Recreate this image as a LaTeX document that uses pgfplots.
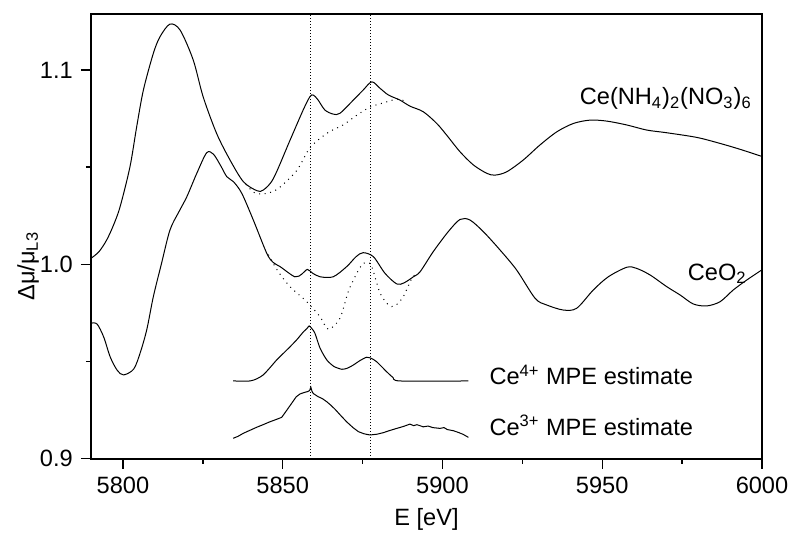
\documentclass[border=0pt]{standalone}
\usepackage{fontspec}
\setmainfont{Liberation Sans}
\usepackage{pgfplots}
\pgfplotsset{compat=1.18}
\begin{document}
\fontsize{11.8bp}{14bp}\selectfont
\begin{tikzpicture}
\begin{axis}[
  at={(0,0)}, anchor=south west,
  scale only axis, width=335.5bp, height=222.35bp,
  xmin=5790, xmax=6000, ymin=0.9, ymax=1.1288,
  xtick={5800,5850,5900,5950,6000},
  ytick={0.9,1.0,1.1},
  minor xtick={5825,5875,5925,5975},
  minor ytick={0.95,1.05},
  tick align=outside, xtick pos=left, ytick pos=left,
  major tick length=5bp, minor tick length=2.5bp,
  tick style={line width=0.7bp, black},
  axis line style={line width=0.8bp},
  cycle list={{black,solid}},
  no markers,
  /pgf/number format/assume math mode=true,
  ticklabel style={font=\fontsize{11.8bp}{14bp}\selectfont},
  xticklabel style={/pgf/number format/1000 sep={}},
  yticklabel style={/pgf/number format/.cd, fixed, fixed zerofill, precision=1},
  xlabel={E [eV]},
  xlabel style={at={(axis description cs:0.5,0)}, anchor=center, yshift=-30.5bp, font=\fontsize{11.8bp}{14bp}\selectfont},
  ylabel={Δμ/μ\textsubscript{L3}},
  ylabel style={at={(axis description cs:-0.0939,0.433)}, anchor=center, font=\fontsize{11.8bp}{14bp}\selectfont},
  every axis plot/.append style={line width=0.5bp, black},
  clip=true,
]
% vertical guide lines
\addplot[densely dotted, line width=0.6bp] coordinates {(5858.6,0.9) (5858.6,1.1288)};
\addplot[densely dotted, line width=0.6bp] coordinates {(5877.4,0.9) (5877.4,1.1288)};

% Ce(NH4)2(NO3)6 solid
\addplot[solid, smooth, tension=0.5] coordinates {
(5790,1.0031) (5792.5,1.0065) (5794.9,1.0125) (5797,1.0200) (5799.1,1.0296) (5802.2,1.0502)
(5804.3,1.0708) (5806.4,1.0897) (5809.5,1.1085) (5811.6,1.1171) (5814.7,1.1236)
(5817.9,1.1205) (5822.0,1.1051) (5825.1,1.0862) (5829.3,1.0674) (5833.5,1.0537)
(5837.7,1.0425) (5841.9,1.0379) (5843.9,1.0382) (5847.1,1.0442) (5852.3,1.0639)
(5856.4,1.0794) (5858.5,1.0862) (5859.6,1.0871) (5861.1,1.0845) (5863.2,1.0794)
(5865.8,1.0773) (5867.9,1.0777) (5872.1,1.0845) (5875.2,1.0897) (5877.9,1.0939)
(5880.5,1.0905) (5883.1,1.0871) (5886.7,1.0845) (5889.8,1.0814) (5894.0,1.0785)
(5898.2,1.0725) (5901.3,1.0665) (5905.5,1.0579) (5909.7,1.0511) (5913.9,1.0468)
(5916.4,1.0459) (5920.1,1.0476) (5925.3,1.0537) (5930.5,1.0614) (5935.8,1.0682)
(5941.0,1.0725) (5946.2,1.0742) (5951.4,1.0737) (5957.7,1.0717) (5963.9,1.0691)
(5970.2,1.0677) (5979.6,1.0653) (5986.9,1.0622) (5993.1,1.0592) (6000,1.0555)
};
% Ce(NH4)2(NO3)6 background (dotted)
\addplot[smooth, tension=0.5, dash pattern=on 0.5bp off 2.3bp] coordinates {
(5838.5,1.0412) (5841,1.0370) (5843.8,1.0362) (5846.5,1.0372) (5849.2,1.0398)
(5854.5,1.0485) (5858.5,1.0599) (5863.9,1.0675) (5868.9,1.0717) (5873,1.0765)
(5877.3,1.0809) (5881.4,1.0830) (5885.8,1.0850) (5888.5,1.0838)
};

% CeO2 solid
\addplot[solid, smooth, tension=0.5] coordinates {
(5790,0.9697) (5791.9,0.9693) (5794,0.9625) (5796.0,0.9524) (5798.2,0.9455)
(5800.2,0.9431) (5803.4,0.9462) (5805.5,0.9550) (5807.5,0.9667) (5809.5,0.9833)
(5812,1.0000) (5814.7,1.0176) (5817.5,1.0270) (5820.0,1.0348) (5823.1,1.0468)
(5826.2,1.0574) (5828.3,1.0567) (5830.5,1.0510) (5832.5,1.0451) (5834.6,1.0425)
(5837.2,1.0365) (5840.8,1.0228) (5845.0,1.0057) (5847,1.0010) (5849.2,0.9988)
(5853.8,0.9936) (5856,0.9950) (5857.7,0.9974) (5859.3,0.9955) (5861.7,0.9936)
(5865.8,0.9936) (5870.0,0.9988) (5873,1.0040) (5875.2,1.0060) (5878.4,1.0039)
(5882.0,0.9954) (5885.7,0.9899) (5888,0.9905) (5890.9,0.9936) (5893.0,0.9962)
(5897.1,1.0065) (5901.8,1.0168) (5905.5,1.0231) (5908.6,1.0228) (5912.8,1.0168)
(5918.0,1.0074) (5923.2,0.9971) (5929.0,0.9825) (5932.6,0.9791) (5937.8,0.9765)
(5942.0,0.9774) (5947.2,0.9868) (5951.9,0.9936) (5957.7,0.9985) (5960.8,0.9979)
(5965.0,0.9945) (5970.2,0.9885) (5974.4,0.9842) (5978.5,0.9796) (5982.7,0.9786)
(5986.9,0.9808) (5991.0,0.9868) (5995.2,0.9919) (6000,0.9972)
};
% CeO2 background (dotted)
\addplot[smooth, tension=0.5, dash pattern=on 0.5bp off 2.3bp] coordinates {
(5845.5,1.0050) (5848.5,0.9965) (5852.3,0.9885) (5857.5,0.9808) (5861.7,0.9730)
(5864.3,0.9666) (5867.9,0.9722) (5870.5,0.9859) (5873.2,0.9954) (5875.2,1.0005)
(5877.3,1.0005) (5878.4,0.9962) (5880.5,0.9851) (5883.1,0.9791) (5885.1,0.9786)
(5887.7,0.9833) (5890.4,0.9928) (5891.5,0.9945)
};

% Ce4+ MPE estimate
\addplot[solid, smooth, tension=0.4] coordinates {
(5834.5,0.9400) (5839.8,0.9400) (5842,0.9412) (5843.9,0.9431) (5846,0.9468)
(5848.1,0.9508) (5850.2,0.9542) (5852.3,0.9576) (5854.4,0.9612) (5856.5,0.9653)
(5857.6,0.9670) (5858.3,0.9683) (5859.2,0.9668) (5860.1,0.9645) (5861.7,0.9568)
(5863.8,0.9508) (5866,0.9475) (5868.5,0.9460) (5870.3,0.9466) (5872.1,0.9482)
(5874.2,0.9505) (5876.3,0.9522) (5877.9,0.9515) (5879.4,0.9499) (5881,0.9473)
(5882.5,0.9448) (5884.5,0.9418) (5886.7,0.9400) (5908.1,0.9400)
};
% Ce3+ MPE estimate
\addplot[solid] coordinates {
(5834.5,0.9105) (5836,0.9115) (5837.7,0.9131) (5840,0.9148) (5841.9,0.9162)
(5844,0.9176) (5846,0.9190) (5848,0.9202) (5849.7,0.9213) (5851.3,0.9250)
(5852.8,0.9285) (5854.2,0.9318) (5855.4,0.9333) (5856.6,0.9340) (5857.7,0.9345)
(5858.4,0.9350) (5858.8,0.9368) (5859.2,0.9345) (5859.6,0.9335) (5861,0.9320)
(5862.5,0.9308) (5863.8,0.9293) (5865,0.9276) (5866.4,0.9254) (5868,0.9225)
(5870,0.9190) (5872,0.9160) (5873.7,0.9139) (5875.5,0.9128) (5877.3,0.9122)
(5879.5,0.9126) (5881.5,0.9134) (5883.5,0.9145) (5885.7,0.9156) (5887.8,0.9166)
(5889.8,0.9178) (5891,0.9170) (5892,0.9175) (5894,0.9164) (5895.5,0.9168)
(5897,0.9160) (5899.2,0.9156) (5900.5,0.9160) (5901.5,0.9150) (5903.4,0.9144)
(5905,0.9135) (5906.5,0.9125) (5908.1,0.9110)
};

\node[anchor=base east, inner sep=0pt] at (axis cs:5996.9,1.082) {Ce(NH\textsubscript{4})\textsubscript{2}(NO\textsubscript{3})\textsubscript{6}};
\node[anchor=base east, inner sep=0pt] at (axis cs:5995.3,0.9919) {CeO\textsubscript{2}};
\node[anchor=base west, inner sep=0pt] at (axis cs:5914.6,0.938) {Ce\textsuperscript{4+} MPE estimate};
\node[anchor=base west, inner sep=0pt] at (axis cs:5914.6,0.912) {Ce\textsuperscript{3+} MPE estimate};
\end{axis}
\pgfresetboundingbox
\path[use as bounding box] (-45.5bp,-39.15bp) rectangle (349.5bp,229.35bp);
\end{tikzpicture}
\end{document}
